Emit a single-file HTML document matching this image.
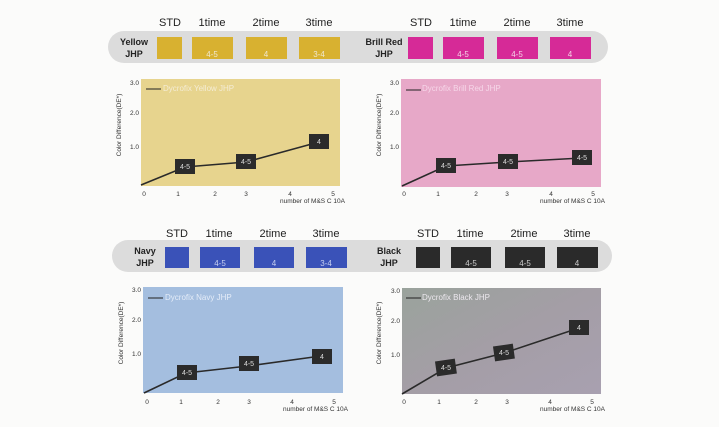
<!DOCTYPE html>
<html><head><meta charset="utf-8"><style>
html,body{margin:0;padding:0;background:#fbfbfa;}
svg{display:block;font-family:"Liberation Sans",sans-serif;}
</style></head><body>
<svg width="719" height="427" viewBox="0 0 719 427" xmlns="http://www.w3.org/2000/svg">
<defs>
<linearGradient id="bk" x1="0" y1="0" x2="1" y2="1">
<stop offset="0" stop-color="#9aa39c"/><stop offset="0.5" stop-color="#a49ea6"/><stop offset="1" stop-color="#a8a0b0"/>
</linearGradient>
</defs>
<rect width="719" height="427" fill="#fbfbfa"/>

<!-- top bar -->
<rect x="108" y="31" width="500" height="32" rx="16" fill="#dcdcdc"/>
<g font-size="11" fill="#222" text-anchor="middle">
<text x="170" y="26">STD</text><text x="212" y="26">1time</text><text x="266" y="26">2time</text><text x="319" y="26">3time</text>
<text x="421" y="26">STD</text><text x="463" y="26">1time</text><text x="517" y="26">2time</text><text x="570" y="26">3time</text>
</g>
<g font-size="9" font-weight="bold" fill="#222" text-anchor="middle">
<text x="134" y="45">Yellow</text><text x="134" y="57">JHP</text>
<text x="384" y="45">Brill Red</text><text x="384" y="57">JHP</text>
</g>
<g fill="#d8b130">
<rect x="157" y="37" width="25" height="22"/><rect x="192" y="37" width="41" height="22"/><rect x="246" y="37" width="41" height="22"/><rect x="299" y="37" width="41" height="22"/>
</g>
<g fill="#d62a97">
<rect x="408" y="37" width="25" height="22"/><rect x="443" y="37" width="41" height="22"/><rect x="497" y="37" width="41" height="22"/><rect x="550" y="37" width="41" height="22"/>
</g>
<g font-size="8" fill="#f0e8d0" text-anchor="middle">
<text x="212" y="57">4-5</text><text x="266" y="57">4</text><text x="319" y="57">3-4</text>
<text x="463" y="57" fill="#f4d0e6">4-5</text><text x="517" y="57" fill="#f4d0e6">4-5</text><text x="570" y="57" fill="#f4d0e6">4</text>
</g>

<!-- bottom bar -->
<rect x="112" y="240" width="500" height="32" rx="16" fill="#dcdcdc"/>
<g font-size="11" fill="#222" text-anchor="middle">
<text x="177" y="237">STD</text><text x="219" y="237">1time</text><text x="273" y="237">2time</text><text x="326" y="237">3time</text>
<text x="428" y="237">STD</text><text x="470" y="237">1time</text><text x="524" y="237">2time</text><text x="577" y="237">3time</text>
</g>
<g font-size="9" font-weight="bold" fill="#222" text-anchor="middle">
<text x="145" y="254">Navy</text><text x="145" y="266">JHP</text>
<text x="389" y="254">Black</text><text x="389" y="266">JHP</text>
</g>
<g fill="#3a52b8">
<rect x="165" y="247" width="24" height="21"/><rect x="200" y="247" width="40" height="21"/><rect x="254" y="247" width="40" height="21"/><rect x="306" y="247" width="41" height="21"/>
</g>
<g fill="#2a2a2a">
<rect x="416" y="247" width="24" height="21"/><rect x="451" y="247" width="40" height="21"/><rect x="505" y="247" width="40" height="21"/><rect x="557" y="247" width="41" height="21"/>
</g>
<g font-size="8" fill="#c8d0f0" text-anchor="middle">
<text x="220" y="266">4-5</text><text x="274" y="266">4</text><text x="326" y="266">3-4</text>
<text x="471" y="266" fill="#ccc">4-5</text><text x="525" y="266" fill="#ccc">4-5</text><text x="577" y="266" fill="#ccc">4</text>
</g>

<!-- chart panels -->
<rect x="141" y="79" width="199" height="107" fill="#e7d48e"/>
<rect x="401" y="79" width="200" height="108" fill="#e7a8c8"/>
<rect x="143" y="287" width="200" height="106" fill="#a4bedf"/>
<rect x="402" y="288" width="199" height="106" fill="url(#bk)"/>

<g font-size="6.5" fill="#333" text-anchor="end">
<text x="139" y="85">3.0</text><text x="139" y="115">2.0</text><text x="139" y="149">1.0</text>
<text x="399" y="85">3.0</text><text x="399" y="115">2.0</text><text x="399" y="149">1.0</text>
<text x="141" y="292">3.0</text><text x="141" y="322">2.0</text><text x="141" y="356">1.0</text>
<text x="400" y="293">3.0</text><text x="400" y="323">2.0</text><text x="400" y="357">1.0</text>
</g>
<g font-size="6.5" fill="#333" text-anchor="middle">
<text transform="translate(121,125) rotate(-90)">Color Difference(DE*)</text>
<text transform="translate(381,125) rotate(-90)">Color Difference(DE*)</text>
<text transform="translate(123,333) rotate(-90)">Color Difference(DE*)</text>
<text transform="translate(381,333) rotate(-90)">Color Difference(DE*)</text>
</g>
<g font-size="6.5" fill="#333" text-anchor="middle">
<text x="144" y="196">0</text><text x="178" y="196">1</text><text x="215" y="196">2</text><text x="246" y="196">3</text><text x="290" y="196">4</text><text x="333" y="196">5</text>
<text x="404" y="196">0</text><text x="438" y="196">1</text><text x="476" y="196">2</text><text x="507" y="196">3</text><text x="551" y="196">4</text><text x="593" y="196">5</text>
<text x="147" y="404">0</text><text x="181" y="404">1</text><text x="218" y="404">2</text><text x="249" y="404">3</text><text x="292" y="404">4</text><text x="334" y="404">5</text>
<text x="404" y="404">0</text><text x="439" y="404">1</text><text x="476" y="404">2</text><text x="507" y="404">3</text><text x="550" y="404">4</text><text x="592" y="404">5</text>
</g>
<g font-size="6.5" fill="#333" text-anchor="end">
<text x="345" y="203">number of M&amp;S C 10A</text>
<text x="605" y="203">number of M&amp;S C 10A</text>
<text x="348" y="411">number of M&amp;S C 10A</text>
<text x="605" y="411">number of M&amp;S C 10A</text>
</g>

<!-- legends -->
<g stroke="#222" stroke-width="1">
<line x1="146" y1="89" x2="161" y2="89"/><line x1="406" y1="90" x2="421" y2="90"/>
<line x1="148" y1="298" x2="163" y2="298"/><line x1="406" y1="298" x2="421" y2="298"/>
</g>
<g font-size="8" fill="#f4ecd4">
<text x="163" y="91">Dycrofix Yellow JHP</text>
<text x="422" y="91" fill="#f6d6e8">Dycrofix Brill Red JHP</text>
<text x="165" y="300" fill="#e4ecf8">Dycrofix Navy JHP</text>
<text x="422" y="300" fill="#ece8ee">Dycrofix Black JHP</text>
</g>

<!-- series -->
<g fill="none" stroke="#2a2a2a" stroke-width="1.6">
<polyline points="141,185 185,167 246,162 319,142"/>
<polyline points="402,186 446,166 508,162 582,158"/>
<polyline points="144,393 186,373 248,366 321,356"/>
<polyline points="402,394 446,368 504,353 579,328"/>
</g>
<g fill="#2b2b2b">
<rect x="175" y="159" width="20" height="15"/><rect x="236" y="154" width="20" height="15"/><rect x="309" y="134" width="20" height="15"/>
<rect x="436" y="158" width="20" height="15"/><rect x="498" y="154" width="20" height="15"/><rect x="572" y="150" width="20" height="15"/>
<rect x="177" y="365" width="20" height="15"/><rect x="239" y="356" width="20" height="15"/><rect x="312" y="349" width="20" height="15"/>
<rect x="436" y="360" width="20" height="15" transform="rotate(-8 446 368)"/><rect x="494" y="345" width="20" height="15" transform="rotate(-8 504 353)"/><rect x="569" y="320" width="20" height="15"/>
</g>
<g font-size="7" fill="#ddd" text-anchor="middle">
<text x="185" y="169">4-5</text><text x="246" y="164">4-5</text><text x="319" y="144">4</text>
<text x="446" y="168">4-5</text><text x="508" y="164">4-5</text><text x="582" y="160">4-5</text>
<text x="187" y="375">4-5</text><text x="249" y="366">4-5</text><text x="322" y="359">4</text>
<text x="446" y="370">4-5</text><text x="504" y="355">4-5</text><text x="579" y="330">4</text>
</g>
</svg>
</body></html>
